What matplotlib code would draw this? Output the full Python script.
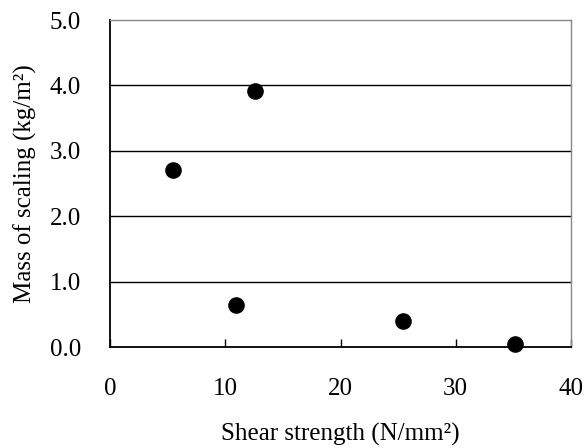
#!/usr/bin/env python3
'''
Scatter of mass of scaling against shear strength
'''

import matplotlib
matplotlib.use('Agg')
import matplotlib.pyplot as plt

shear_strength = [5.5, 12.6, 10.9, 25.4, 35.1]
mass_scaling = [2.71, 3.91, 0.64, 0.39, 0.04]

x_ticks = [0, 10, 20, 30, 40]
y_ticks = [0.0, 1.0, 2.0, 3.0, 4.0, 5.0]

plt.rcParams['font.family'] = ['Liberation Serif', 'DejaVu Serif']

fig = plt.figure(figsize=(5.87, 4.48), dpi=100)
ax = fig.add_axes([110 / 587, 1 - 347 / 448, 461 / 587, 327 / 448])

ax.scatter(shear_strength, mass_scaling, s=120, color='black', zorder=3,
           clip_on=False)

ax.set_xlim(0, 40)
ax.set_ylim(0, 5)
ax.set_xticks(x_ticks)
ax.set_yticks(y_ticks)
ax.set_yticklabels(['%.1f' % v for v in y_ticks])

for v in y_ticks[1:-1]:
    ax.axhline(v, color='black', lw=1.0, zorder=1)

ax.spines['left'].set_color('black')
ax.spines['bottom'].set_color('black')
ax.spines['left'].set_linewidth(1.3)
ax.spines['bottom'].set_linewidth(1.3)
ax.spines['top'].set_color('#888888')
ax.spines['right'].set_color('#888888')
ax.spines['top'].set_linewidth(1.0)
ax.spines['right'].set_linewidth(1.0)

ax.tick_params(axis='x', direction='in', length=6, width=1.0, pad=22,
               labelsize=18)
ax.tick_params(axis='y', length=0, pad=21, labelsize=18)

ax.set_xlabel('Shear strength (N/mm²)', fontsize=18, labelpad=17)
ax.set_ylabel('Mass of scaling (kg/m²)', fontsize=18, labelpad=9)

plt.savefig('out.png', dpi=100)
